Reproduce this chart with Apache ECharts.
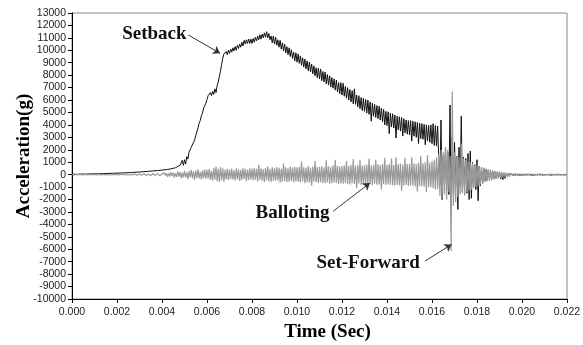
<!DOCTYPE html>
<html>
<head>
<meta charset="utf-8">
<script src="https://cdn.jsdelivr.net/npm/echarts@6/dist/echarts.min.js"></script>
<style>
  html, body { margin: 0; padding: 0; background: #fff; }
  #chart { width: 583px; height: 345px; }
</style>
</head>
<body>
<div id="chart"></div>
<script>
// axis ticks
const timeTicks = { min: 0, max: 0.022, interval: 0.002 };
const accelTicks = { min: -10000, max: 13000, interval: 1000 };

// Setback (black) trace, sampled in segments: start time, step, values (g)
const setbackRiseStart = 0, setbackRiseStep = 0.0002;
const setbackRise = [40, 20, 50, 40, 60, 70, 60, 90, 100, 110, 120, 140, 150, 170, 190, 210, 240, 270, 300, 330, 370, 410, 460, 560, 750];

const setbackMainStart = 0.0049, setbackMainStep = 0.00005;
const setbackMain = [
  1150, 750, 1200, 850, 1450, 1250, 1800, 1650, 2200, 2350, 2600, 2800, 3150, 3450, 3750, 4150, 4350, 4750, 4950, 5350,
  5500, 5750, 6050, 6350, 6250, 6600, 6350, 6700, 6450, 6900, 6600, 7150, 7450, 7900, 8350, 8850, 9350, 9700, 9550, 9900,
  9650, 10000, 9750, 10100, 9850, 10200, 9950, 10300, 10000, 10400, 10150, 10500, 10250, 10650, 10350, 10800, 10500, 10850, 10550, 10900,
  10550, 10900, 10550, 10950, 10650, 11050, 10750, 11150, 10850, 11250, 10900, 11300, 11000, 11400, 11050, 11500, 11000, 11350, 10850, 11150,
  10600, 11150, 10500, 11050, 10400, 10850, 10250, 10800, 10100, 10600, 9950, 10500, 9800, 10300, 9650, 10200, 9500, 10050, 9350, 9850,
  9150, 9800, 9050, 9700, 8950, 9550, 8800, 9400, 8650, 9300, 8500, 9150, 8350, 9050, 8250, 8900, 8100, 8750, 7950, 8600,
  7800, 8550, 7700, 8500, 7550, 8300, 7450, 8250, 7300, 8050, 7200, 7950, 7050, 7800, 6950, 7700, 6800, 7600, 6650, 7400,
  6500, 7400, 6400, 7350, 6300, 7100, 6150, 7000, 6000, 6850, 5850, 6750, 5700, 6900, 5650, 6400, 5450, 6350, 5300, 6200,
  5150, 6150, 5100, 6050, 4950, 6000, 4850, 5850, 4300, 5750, 4700, 5650, 4600, 5550, 4500, 5500, 4400, 5350, 4250, 5250,
  4000, 5100, 3950, 5050, 3300, 4950, 3850, 4900, 3750, 4800, 2950, 4700, 3600, 4650, 3500, 4600, 3100, 4500, 3350, 4400,
  3250, 4350, 3200, 4350, 2700, 4300, 3100, 4250, 3000, 4200, 2500, 4150, 2900, 4100, 2850, 4050, 2400, 4000, 2700, 3950,
  2600, 4000, 2500, 4100, 2350, 3950, 2300, 3900, 1200, -800, 4400, -2000, 1500, -600, 2200, -1200, 1800, -1600, 5600, -3000,
  3000, -1500, 2600, -1000, 1500, -2800, 2200, -900, 4700, -1400, 1400, -800, 1300, -1500, 1700, -2000, 1900, -1900, 1000, -1000,
  800, -1200, 1200, -2100, 700, -900, 600, -700, 500, -500, 400, -450, 350, -300, 300, -350, 250, -250, 200, -300,
  150, -200, 200, -350, 100, -400, 100, -300, 80, -150, 60, -80, 40
];

const setbackTailStart = 0.0196, setbackTailStep = 0.0001;
const setbackTail = [20, -40, 30, -50, 10, -30, 40, -20, 30, -60, 20, -30, 50, -40, 10, -20, 30, -50, 20, -30, 40, -20, 10, -30, 20];

// Balloting (grey) trace
const ballotEarlyStart = 0, ballotEarlyStep = 0.0001;
const ballotEarly = [
  10, -20, 15, -10, 20, -15, 10, -25, 20, -10,
  15, -20, 25, -15, 10, -20, 20, -25, 15, -10,
  25, -20, 30, -25, 20, -30, 25, -20, 40, -50,
  60, -40, 70, -60, 50, -80, 90, -70, 100, -90
];

const ballotMainStart = 0.004, ballotMainStep = 0.00005;
const ballotMain = [
  60, -90, 140, -60, 110, -170, 90, -130, 200, -110, 160, -240, 120, -180, 260, -150, 210, -280, 170, -230,
  300, -220, 180, -360, 280, -200, 380, -310, 240, -420, 330, -260, 450, -300, 220, -380, 350, -280, 410, -330,
  380, -300, 460, -420, 300, -480, 560, -400, 650, -520, 480, -600, 620, -450, 520, -560, 400, -380, 470, -420,
  420, -360, 480, -400, 350, -470, 520, -380, 430, -500, 380, -450, 560, -340, 460, -520, 400, -430, 500, -380,
  480, -450, 560, -400, 470, -560, 800, -420, 520, -480, 440, -600, 560, -470, 680, -520, 460, -580, 600, -480,
  540, -500, 620, -460, 560, -640, 480, -540, 900, -520, 600, -580, 520, -560, 660, -500, 580, -620, 640, -540,
  600, -560, 640, -620, 1050, -540, 600, -680, 560, -600, 700, -620, 580, -880, 660, -560, 1100, -600, 620, -660,
  640, -600, 700, -660, 600, -700, 1150, -620, 680, -720, 620, -680, 760, -640, 1200, -660, 700, -760, 650, -700,
  700, -720, 760, -660, 1100, -740, 700, -780, 800, -680, 1250, -740, 720, -1100, 780, -700, 1200, -800, 720, -740,
  760, -740, 820, -780, 1300, -760, 740, -840, 780, -720, 1200, -800, 840, -780, 760, -1200, 860, -760, 1350, -800,
  800, -780, 860, -820, 1300, -860, 780, -880, 1400, -820, 860, -840, 900, -1300, 820, -880, 1350, -840, 880, -920,
  860, -900, 1400, -860, 920, -960, 840, -1350, 960, -920, 1500, -940, 920, -980, 1000, -1400, 1550, -1000, 960, -1020,
  1100, -1100, 1200, -1200, 1400, -1150, 1700, -1700, 2000, -1900, 1800, -1600, 2200, -2000, 2000, -1400, 1500, -6150, 6680, -2500,
  1800, -2200, 1500, -1800, 1400, -1600, 2500, -1500, 1300, -1700, 1200, -1400, 1100, -1300, 1000, -1200, 950, -1100, 850, -1000,
  800, -900, 700, -800, 600, -700, 550, -600, 500, -550, 450, -500, 400, -450, 350, -400, 300, -350, 280, -300,
  250, -250, 200, -220, 180, -200, 150, -170, 130, -150, 120
];

const ballotTailStart = 0.0196, ballotTailStep = 0.0001;
const ballotTail = [-100, 90, -80, 80, -70, 60, -70, 50, -60, 50, -40, 60, -50, 40, -50, 30, -40, 40, -30, 30, -40, 20, -30, 30, -20];

// pair each sample with its time
function segment(start, step, values) {
  return values.map((v, i) => [+(start + i * step).toFixed(6), v]);
}

const setbackData = [].concat(
  segment(setbackRiseStart, setbackRiseStep, setbackRise),
  segment(setbackMainStart, setbackMainStep, setbackMain),
  segment(setbackTailStart, setbackTailStep, setbackTail)
);
const ballotData = [].concat(
  segment(ballotEarlyStart, ballotEarlyStep, ballotEarly),
  segment(ballotMainStart, ballotMainStep, ballotMain),
  segment(ballotTailStart, ballotTailStep, ballotTail)
);

const labelFont = '"Liberation Serif", "DejaVu Serif", serif';
const tickFont = '"Liberation Sans", Arial, sans-serif';

const chart = echarts.init(document.getElementById('chart'), null, { renderer: 'canvas' });

const option = {
  animation: false,
  backgroundColor: '#fff',
  grid: {
    left: 72, right: 16, top: 13, bottom: 46,
    outerBoundsMode: 'none',
    containLabel: false,
    show: true, borderColor: '#888', borderWidth: 1
  },
  xAxis: {
    type: 'value',
    min: timeTicks.min, max: timeTicks.max, interval: timeTicks.interval,
    name: 'Time (Sec)',
    nameLocation: 'middle',
    nameGap: 23,
    nameTextStyle: {
      fontFamily: labelFont, fontWeight: 'bold', fontSize: 19, color: '#000',
      padding: [0, 0, 0, 16]
    },
    axisLine: { onZero: false, lineStyle: { color: '#000', width: 1 } },
    axisTick: { length: 4, lineStyle: { color: '#000' } },
    axisLabel: {
      margin: 8, color: '#222', fontSize: 10.5, fontFamily: tickFont,
      formatter: (v) => v.toFixed(3)
    },
    splitLine: { show: false }
  },
  yAxis: {
    type: 'value',
    min: accelTicks.min, max: accelTicks.max, interval: accelTicks.interval,
    name: 'Acceleration(g)',
    nameLocation: 'middle',
    nameGap: 38,
    nameMoveOverlap: false,
    nameTextStyle: { fontFamily: labelFont, fontWeight: 'bold', fontSize: 19, color: '#000' },
    axisLine: { show: true, lineStyle: { color: '#000', width: 1 } },
    axisTick: { show: true, length: 4, lineStyle: { color: '#000' } },
    axisLabel: {
      margin: 6, color: '#222', fontSize: 10.5, fontFamily: tickFont,
      formatter: (v) => String(v)
    },
    splitLine: { show: false }
  },
  series: [
    {
      name: 'Setback',
      type: 'line',
      data: setbackData,
      showSymbol: false,
      silent: true,
      lineStyle: { color: '#111', width: 1 },
      markLine: {
        silent: true,
        symbol: ['none', 'arrow'],
        symbolSize: 7,
        label: { show: false },
        lineStyle: { color: '#333', width: 1, type: 'solid' },
        data: [
          [{ coord: [0.00517, 11230] }, { coord: [0.00658, 9760] }],
          [{ coord: [0.01161, -2940] }, { coord: [0.01324, -670] }],
          [{ coord: [0.01569, -6950] }, { coord: [0.01687, -5610] }]
        ]
      },
      markPoint: {
        silent: true,
        symbol: 'circle',
        symbolSize: 1,
        itemStyle: { color: 'rgba(0,0,0,0)' },
        label: {
          show: true,
          position: 'inside',
          formatter: (p) => p.name,
          fontFamily: labelFont, fontWeight: 'bold', fontSize: 19, color: '#111'
        },
        data: [
          { name: 'Setback', coord: [0.00366, 11270] },
          { name: 'Balloting', coord: [0.0098, -3080] },
          { name: 'Set-Forward', coord: [0.01316, -7100] }
        ]
      }
    },
    {
      name: 'Balloting',
      type: 'line',
      data: ballotData,
      showSymbol: false,
      silent: true,
      lineStyle: { color: '#9a9a9a', width: 1.2 }
    }
  ]
};

chart.setOption(option);
</script>
</body>
</html>
